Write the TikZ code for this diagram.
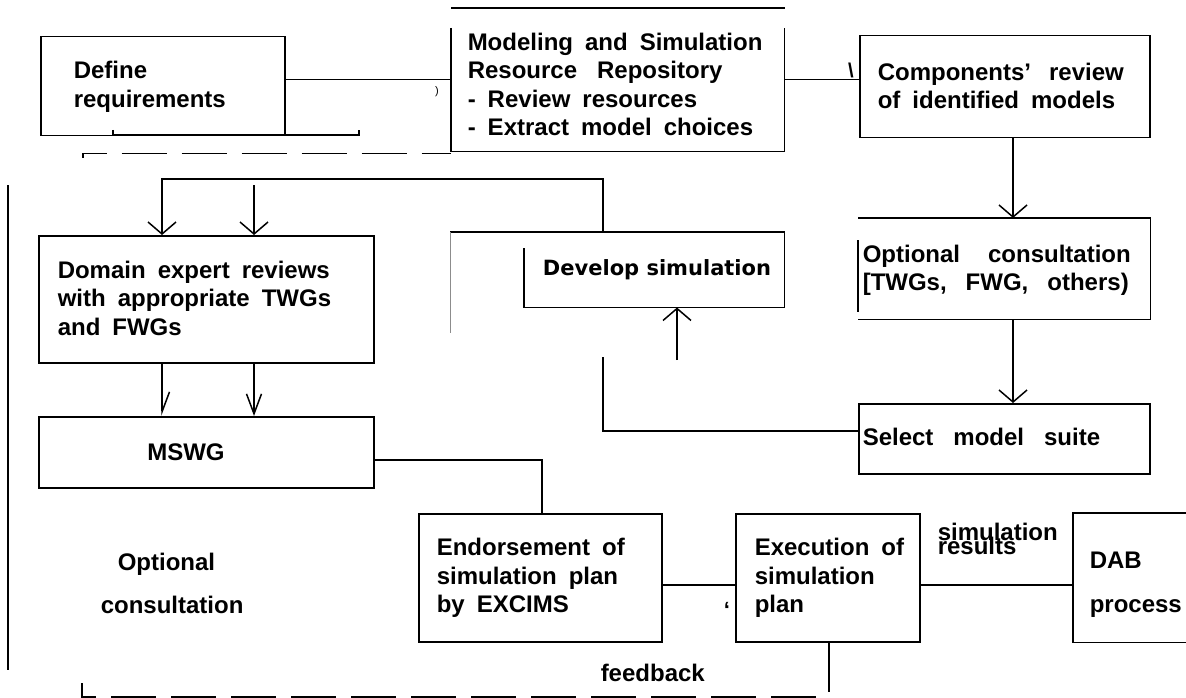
\documentclass[tikz,border=0pt]{standalone}
\usepackage{fontspec}
\setmainfont{Liberation Sans}
\newfontfamily\devfont{DejaVu Sans}
\usetikzlibrary{arrows.meta}
\begin{document}
\begin{tikzpicture}[x=1pt,y=-1pt,line width=1.5pt,
  box/.style={draw,rectangle,anchor=north west,inner sep=0pt},
  lbl/.style={inner sep=0pt,anchor=west,align=left,
    font={\fontsize{24}{28.5}\selectfont\bfseries\spaceskip=0.5em\relax}},
  plain/.style={inner sep=0pt,font={\fontsize{24}{28.5}\selectfont\bfseries}},
  arr/.style={-{Straight Barb[length=12pt,width=28pt]}},
  narr/.style={-{Straight Barb[length=20pt,width=15pt]}},
  harr/.style={-{Straight Barb[length=20pt,width=15pt,harpoon]}},
  dsh/.style={dash pattern=on 45pt off 15pt,dash phase=17pt}]
\path[fill=white] (0,0) rectangle (1186,698);
\useasboundingbox (0,0) rectangle (1186,698);

% boxes
\node[box,minimum width=244pt,minimum height=99pt] (def) at (40,36) {};
\node[box,draw=none,minimum width=332pt,minimum height=122pt] (msr) at (451,28) {};
\draw (msr.north west) -- (msr.south west) -- (msr.south east) -- (msr.north east);
\draw ([yshift=20pt]msr.north west) -- ([yshift=20pt]msr.north east);
\node[box,minimum width=290pt,minimum height=102pt] (comp) at (859,35) {};
\node[box,draw=none,minimum width=291pt,minimum height=100pt] (cons) at (858,218) {};
\draw (cons.north west) -- (cons.north east) -- (cons.south east) -- (cons.south west);
\draw ([yshift=-22pt]cons.north west) -- ([yshift=8pt]cons.south west);
\node[box,minimum width=291pt,minimum height=70pt] (sel) at (858,403) {};
\node[box,minimum width=335pt,minimum height=127pt] (dom) at (38,235) {};
\node[box,draw=none,minimum width=259pt,minimum height=74pt] (dev) at (524,232) {};
\draw ([yshift=-16pt]dev.north west) -- (dev.south west) -- (dev.south east)
      -- (dev.north east) -- ([xshift=-74pt]dev.north west);
\draw[black!45,line width=1pt] ([xshift=-74pt]dev.north west) -- ++(0,101);
\node[box,minimum width=335pt,minimum height=71pt] (mswg) at (38,416) {};
\node[box,minimum width=243pt,minimum height=128pt] (endo) at (418,513) {};
\node[box,minimum width=184pt,minimum height=128pt] (exe) at (735,513) {};
\node[box,draw=none,minimum width=113pt,minimum height=128pt] (dab) at (1073,513) {};
\draw (dab.north east) -- (dab.north west) -- (dab.south west) -- (dab.south east);

% texts
\node[lbl] (defT) at (73,87) {Define\\requirements};
\node[lbl] (msrT) at (467,84.5) {Modeling and Simulation\\Resource\hspace{8pt} Repository\\- Review resources\\- Extract model choices};
\node[lbl] (compT) at (877,86) {Components’\hspace{6pt} review\\of identified models};
\node[lbl] (domT) at (57,298) {Domain expert reviews\\with appropriate TWGs\\and FWGs};
\node[inner sep=0pt,font={\devfont\bfseries\fontsize{21}{25}\selectfont}] (devT) at (657,270) {Develop simulation};
\node[lbl] (consT) at (862,270.5) {Optional\hspace{16pt} consultation\\{}[TWGs,\hspace{7pt} FWG,\hspace{7pt} others)};
\node[lbl] (selT) at (862,437) {Select\hspace{8pt} model\hspace{8pt} suite};
\node[plain] (mswgT) at (186,452) {MSWG};
\node[lbl] (endoT) at (436,578) {Endorsement of\\simulation plan\\by EXCIMS};
\node[lbl] (exeT) at (754,578) {Execution of\\simulation\\plan};
\node[lbl,font={\fontsize{24}{44}\selectfont\bfseries}] (dabT) at (1089,584.5) {DAB\\process};
\node[plain,anchor=base west] (simT) at (937,540) {simulation};
\node[plain,anchor=base west] (resT) at (937,554) {results};
\node[plain,anchor=base west] (fbT) at (600,681) {feedback};
\node[plain,anchor=base west] (optT) at (117,570) {Optional};
\node[plain,anchor=base west] (conT) at (100,613) {consultation};
\node[inner sep=0pt,font={\fontsize{11}{13}\selectfont}] (m1) at (437,92) {)};
\node[inner sep=0pt,font={\fontsize{20}{24}\selectfont\bfseries}] (m2) at (851,70) {\textbackslash};
\node[inner sep=0pt,font={\fontsize{22}{24}\selectfont\bfseries}] (m3) at (727,610) {‘};

% helper coordinates
\coordinate (xa) at (162,0);
\coordinate (xb) at (254,0);
\coordinate (xc) at (1013,0);
\coordinate (xd) at (603,0);
\coordinate (xf) at (542,0);
\coordinate (tl) at (603,179);
\coordinate (tb) at (254,185);
\coordinate (fb) at (603,357);
\coordinate (up) at (677,360);
\coordinate (fbe) at (829,692);
\coordinate (ol) at (8,185);
\coordinate (ol2) at (8,670);
\coordinate (d1) at (83,158);
\coordinate (d2) at (82,683);
\coordinate (d3) at (829,697);

% connectors
\draw ([yshift=6.5pt]def.east) -- ([yshift=6.5pt]def.east -| msr.west);
\draw ([yshift=10pt]msr.east) -- ([yshift=10pt]msr.east -| comp.west);
\draw[arr] (comp.south -| xc) -- (cons.north -| xc);
\draw[arr] (cons.south -| xc) -- (sel.north -| xc);
\draw ([yshift=8pt]sel.west) -| (fb);
\draw[arr] (up) -- (dev.south -| up);
\draw[arr] (dev.north -| xd) -- (tl) -| (dom.north -| xa);
\draw[arr] (tb) -- (dom.north -| tb);
\draw[harr] (dom.south -| xa) -- (mswg.north -| xa);
\draw[narr] (dom.south -| xb) -- (mswg.north -| xb);
\draw ([yshift=-7.5pt]mswg.east) -| (endo.north -| xf);
\draw ([yshift=-7pt]endo.east) -- ([yshift=-7pt]endo.east -| exe.west);
\draw ([yshift=-7pt]exe.east) -- ([yshift=-7pt]exe.east -| dab.west);
\draw (exe.south -| fbe) -- (fbe);
\draw (ol) -- (ol2);
\draw[dsh] (d1) |- ([yshift=-2pt]msr.south west);
\draw[dsh] (d2) |- (d3);
\draw (113,130) |- (359,135) -- (359,130);
\end{tikzpicture}
\end{document}
